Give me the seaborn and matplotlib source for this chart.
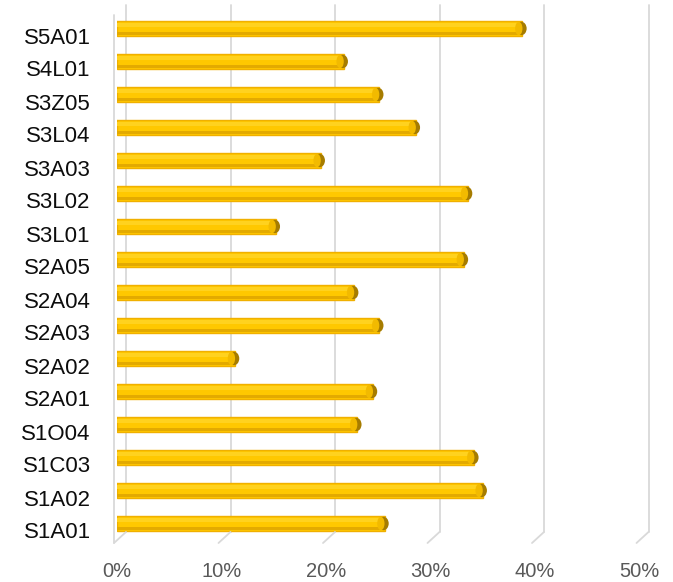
import matplotlib
matplotlib.use("Agg")
import matplotlib.pyplot as plt
import matplotlib.transforms as mtransforms
from matplotlib.patches import Rectangle, Ellipse
import seaborn as sns
import pandas as pd

categories = ["S5A01", "S4L01", "S3Z05", "S3L04", "S3A03", "S3L02", "S3L01", "S2A05",
              "S2A04", "S2A03", "S2A02", "S2A01", "S1O04", "S1C03", "S1A02", "S1A01"]
values = [0.388, 0.217, 0.251, 0.286, 0.195, 0.336, 0.152, 0.332,
          0.227, 0.251, 0.113, 0.245, 0.230, 0.342, 0.350, 0.256]
xticks = [0.0, 0.1, 0.2, 0.3, 0.4, 0.5]
xticklabels = ["0%", "10%", "20%", "30%", "40%", "50%"]

df = pd.DataFrame({"cat": categories, "val": values})

sns.set_theme(style="white")
plt.rcParams["font.family"] = ["Liberation Sans", "DejaVu Sans"]

fig = plt.figure(figsize=(6.73, 5.82), dpi=100)
ax = fig.add_axes([117/673, 1-540/582, (639.5-117)/673, 528/582])

sns.barplot(data=df, x="val", y="cat", orient="h", color="#FFC800",
            width=0.44, edgecolor="#F0B000", linewidth=1.0, saturation=1, ax=ax, zorder=3)

ax.set_xlim(0, 0.5)
ax.set_ylim(len(categories)-0.5, -0.5)

# 3D-looking shading on each bar
for p in list(ax.patches):
    x0, y0 = p.get_x(), p.get_y()
    w, h = p.get_width(), p.get_height()
    ax.add_patch(Rectangle((x0, y0 + 0.12*h), w, 0.28*h, color="#FFD21F", lw=0, zorder=4))
    ax.add_patch(Rectangle((x0, y0 + 0.72*h), w, 0.22*h, color="#E3AA00", lw=0, zorder=4))
    ax.add_patch(Ellipse((x0 + w - 0.001, y0 + h/2), 0.010, h*0.92, color="#A67C00", lw=0, zorder=5))
    ax.add_patch(Ellipse((x0 + w - 0.0035, y0 + h/2), 0.007, h*0.92, color="#F2BA00", lw=0, zorder=5))
    ax.add_patch(Ellipse((x0, y0 + h/2), 0.006, h*0.98, color="#FFC800", ec="#F0B000", lw=0.8, zorder=2.9))

# back-wall gridlines (offset to the right) and floor diagonals
dpi_t = fig.dpi_scale_trans
bx = ax.get_xaxis_transform()
for xv in xticks:
    back = bx + mtransforms.ScaledTranslation(9/100, 0, dpi_t)
    ax.plot([xv, xv], [(540-532)/528, (540-5)/528], transform=back, color="#D9D9D9",
            lw=1.3, clip_on=False, zorder=1)
    t1 = bx + mtransforms.ScaledTranslation(-3/100, 0, dpi_t)
    t2 = bx + mtransforms.ScaledTranslation(9/100, 0, dpi_t)
    p1 = t1.transform((xv, (540-543)/528))
    p2 = t2.transform((xv, (540-532)/528))
    fig.add_artist(plt.Line2D([p1[0]/fig.bbox.width, p2[0]/fig.bbox.width],
                              [p1[1]/fig.bbox.height, p2[1]/fig.bbox.height],
                              transform=fig.transFigure, color="#D9D9D9", lw=1.3, zorder=1))

# left wall line
lw_t = bx + mtransforms.ScaledTranslation(-3/100, 0, dpi_t)
ax.plot([0, 0], [(540-543)/528, (540-15)/528], transform=lw_t, color="#D9D9D9",
        lw=1.3, clip_on=False, zorder=1)

ax.set_xticks(xticks)
ax.set_xticklabels(xticklabels)
ax.tick_params(axis="x", length=0, pad=16, labelsize=14.5, labelcolor="#595959")
ax.tick_params(axis="y", length=0, pad=19, labelsize=16, labelcolor="#0D0D0D")
shift = mtransforms.ScaledTranslation(0, -7/100, dpi_t)
for lab in ax.get_yticklabels():
    lab.set_transform(lab.get_transform() + shift)
ax.set_xlabel("")
ax.set_ylabel("")
for s in ax.spines.values():
    s.set_visible(False)
ax.grid(False)

fig.savefig("out.png", dpi=100)
